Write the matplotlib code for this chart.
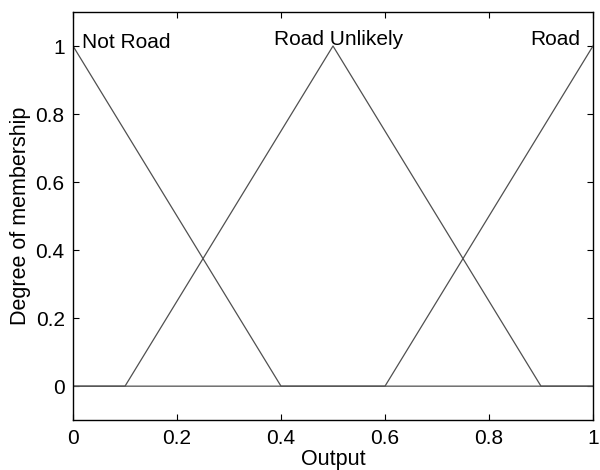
import matplotlib
matplotlib.use('Agg')
import matplotlib.pyplot as plt

plt.rcParams['font.family'] = ['Liberation Sans', 'DejaVu Sans']

# membership functions (trimf breakpoints)
x_not_road = [0, 0, 0.4, 1]
y_not_road = [1, 1, 0, 0]
x_unlikely = [0, 0.1, 0.5, 0.9, 1]
y_unlikely = [0, 0, 1, 0, 0]
x_road = [0, 0.6, 1, 1]
y_road = [0, 0, 1, 1]

labels = ['Not Road', 'Road Unlikely', 'Road']
xticks = [0, 0.2, 0.4, 0.6, 0.8, 1]
yticks = [0, 0.2, 0.4, 0.6, 0.8, 1]

fig = plt.figure(figsize=(6, 4.7), dpi=100)
ax = fig.add_axes([0.1217, 0.106, 0.8666, 0.8685])

lc = '#505050'
ax.plot(x_not_road, y_not_road, color=lc, lw=0.9)
ax.plot(x_unlikely, y_unlikely, color=lc, lw=0.9)
ax.plot(x_road, y_road, color=lc, lw=0.9)

fs = 15
ax.text(0.017, 1.01, labels[0], ha='left', va='center', fontsize=fs)
ax.text(0.51, 1.02, labels[1], ha='center', va='center', fontsize=fs)
ax.text(0.975, 1.02, labels[2], ha='right', va='center', fontsize=fs)

ax.set_xlim(0, 1)
ax.set_ylim(-0.1, 1.1)
ax.set_xticks(xticks)
ax.set_yticks(yticks)
ax.set_xticklabels(['0', '0.2', '0.4', '0.6', '0.8', '1'])
ax.set_yticklabels(['0', '0.2', '0.4', '0.6', '0.8', '1'])
ax.tick_params(direction='in', top=True, right=True, labelsize=fs, length=4, width=0.8, pad=6)
for s in ax.spines.values():
    s.set_linewidth(1.0)

ax.set_xlabel('Output', fontsize=15.5, labelpad=1)
ax.set_ylabel('Degree of membership', fontsize=15.5, labelpad=3)

fig.savefig('out.png', dpi=100)
